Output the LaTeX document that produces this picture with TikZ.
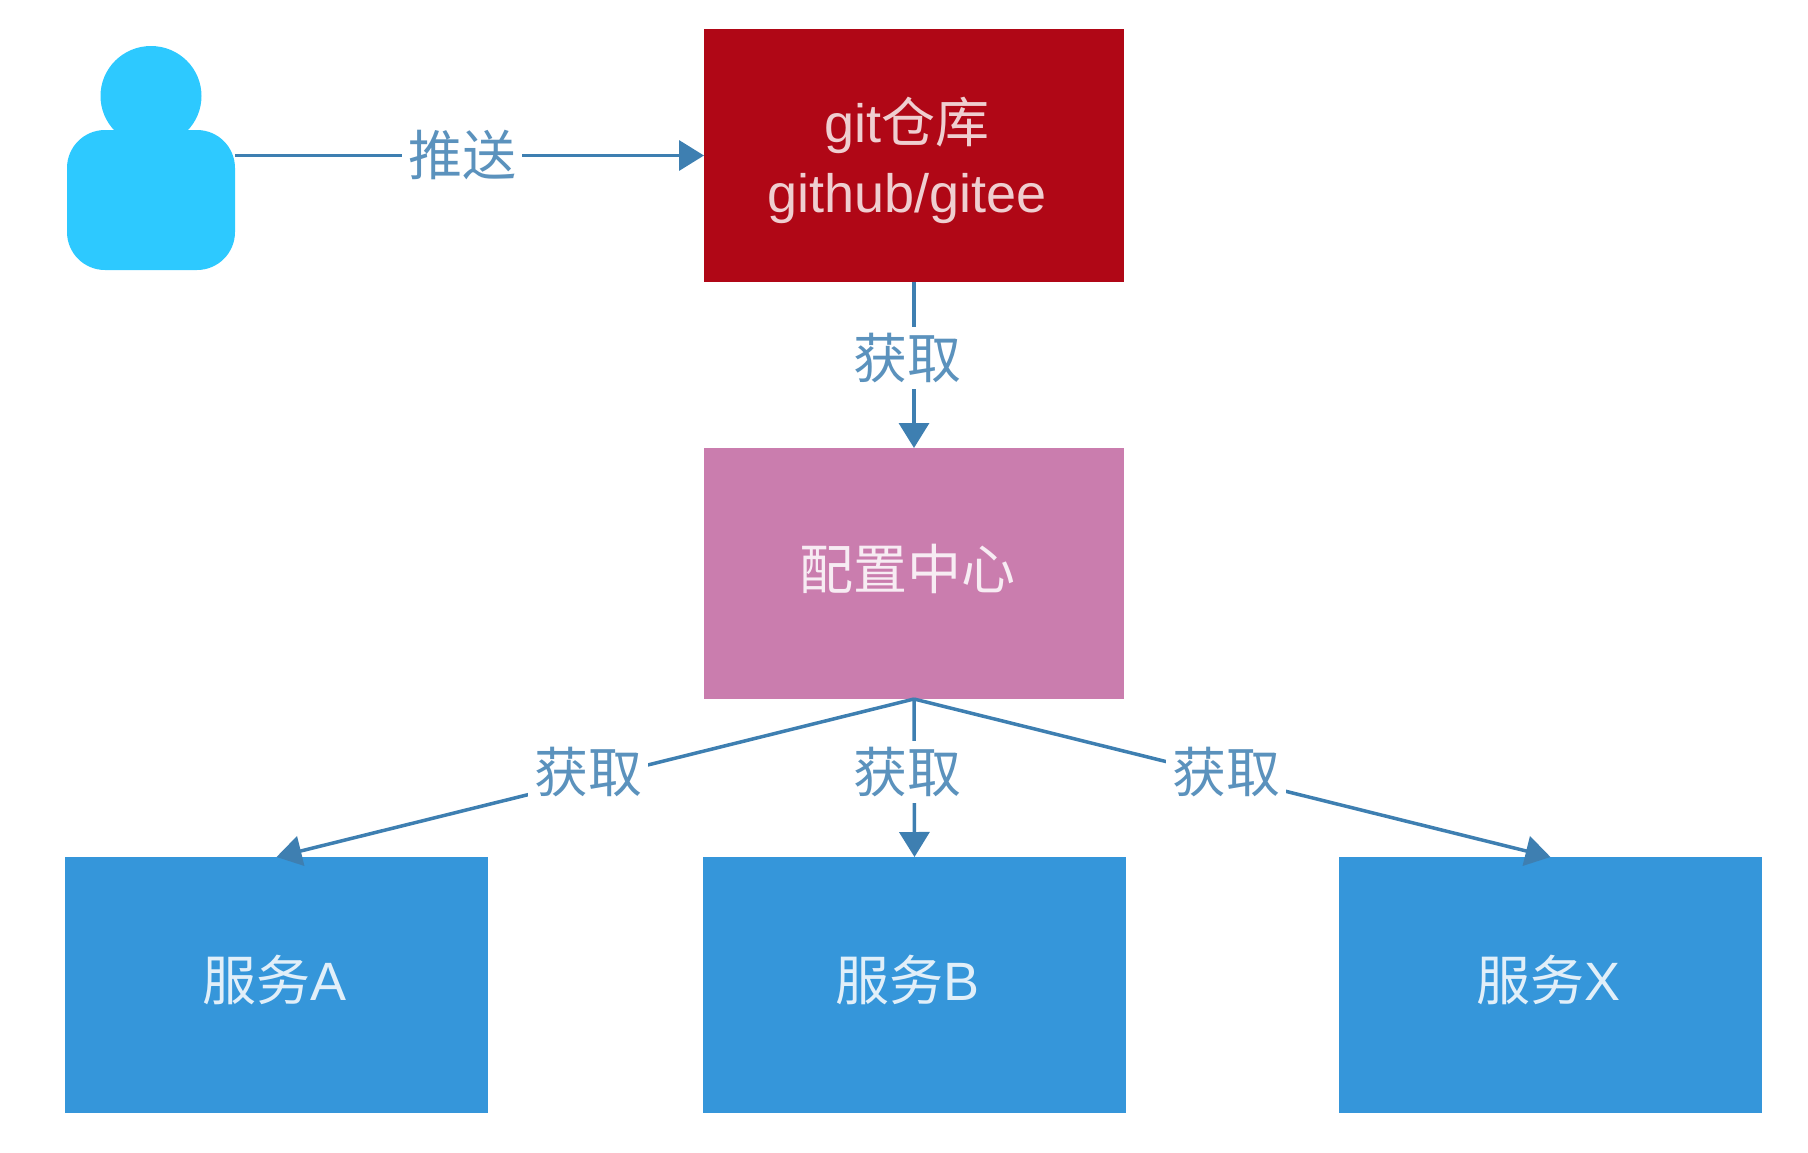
\documentclass[tikz,border=0pt]{standalone}
\usepackage{fontspec}
\usepackage{xcolor}
\setmainfont{Liberation Sans}
\newfontfamily\cjk{Noto Sans CJK SC}
\definecolor{repored}{HTML}{B00716}
\definecolor{centerpink}{HTML}{CA7DAE}
\definecolor{svcblue}{HTML}{3596DA}
\definecolor{personblue}{HTML}{2DC9FF}
\definecolor{linkblue}{HTML}{3E7FB1}
\usetikzlibrary{positioning,arrows.meta,shapes.geometric}

\begin{document}
\begin{tikzpicture}[x=1pt,y=-1pt,
box/.style={rectangle,outer sep=0pt,inner sep=0pt,minimum width=420pt,minimum height=253pt},
svc/.style={box,fill=svcblue,minimum width=423pt,minimum height=256pt},
boxtxt/.style={align=center,inner sep=0pt,xshift=-7pt,font=\fontsize{54}{70}\selectfont},
conn/.style={draw=linkblue,line width=3.5pt,-{Triangle[length=25pt,width=30pt]}},
lbl/.style={fill=white,text=linkblue!85!white,inner sep=6pt,font=\fontsize{54}{60}\selectfont\cjk}]
\useasboundingbox (0,0) rectangle (1808,1152);
% top row
\node (repo) [box,fill=repored] at (914,155.5) {};
\node (head) [ellipse,fill=personblue,minimum width=101pt,minimum height=100pt,inner sep=0pt] at (151,96) {};
\node (person) [rectangle,rounded corners=38pt,fill=personblue,minimum width=168pt,minimum height=140pt,
    inner sep=0pt,outer sep=0pt] at (151,200) {};
% middle
\node (center) [box,fill=centerpink,minimum height=251pt,below=166pt of repo] {};
% services
\node (svcb) [svc,below=158pt of center,xshift=.5pt] {};
\node (svca) [svc,left=215pt of svcb] {};
\node (svcx) [svc,right=213pt of svcb] {};
% box texts
\node (repotxt) [boxtxt,text=white!80!repored,yshift=-5pt] at (repo) {git{\cjk 仓库}\\github/gitee};
\node (centertxt) [boxtxt,text=white!85!centerpink,yshift=5pt] at (center) {{\cjk 配置中心}};
\node (svcatxt) [boxtxt,text=white!85!svcblue,yshift=5pt,xshift=5pt] at (svca) {{\cjk 服务}A};
\node (svcbtxt) [boxtxt,text=white!85!svcblue,yshift=5pt] at (svcb) {{\cjk 服务}B};
\node (svcxtxt) [boxtxt,text=white!85!svcblue,yshift=5pt,xshift=5pt] at (svcx) {{\cjk 服务}X};
% links
\draw[conn] (person.east |- repo.west) -- node (push) [lbl,pos=.485] {推送} (repo.west);
\draw[conn] (repo.south) -- node (fetchc) [lbl,xshift=-7pt,yshift=7pt] {获取} (center.north);
\draw[conn] (center.south) -- node (fetcha) [lbl,xshift=-7pt,yshift=6pt] {获取} (svca.north);
\draw[conn] (center.south) -- node (fetchb) [lbl,xshift=-7pt,yshift=6pt] {获取} (svcb.north);
\draw[conn] (center.south) -- node (fetchx) [lbl,xshift=-6pt,yshift=6pt] {获取} (svcx.north);
\end{tikzpicture}
\end{document}
